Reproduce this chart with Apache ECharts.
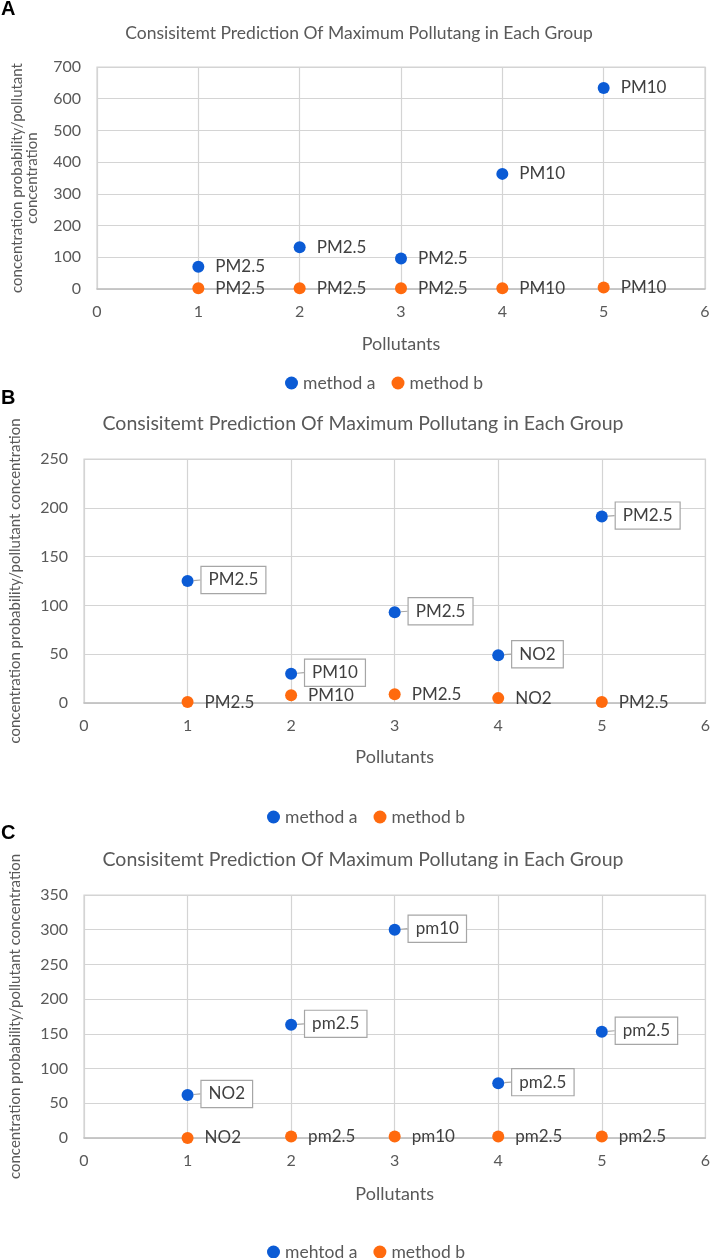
<!DOCTYPE html>
<html>
<head>
<meta charset="utf-8">
<script src="https://cdn.jsdelivr.net/npm/echarts@6/dist/echarts.min.js"></script>
<style>
  html, body { margin: 0; padding: 0; background: #fff; }
  #chart { width: 713px; height: 1258px; }
</style>
</head>
<body>
<div id="chart"></div>
<script>
var xs = [1, 2, 3, 4, 5];

// panel A
var a_methodA = [70, 132, 96, 363, 634];
var a_methodB = [2, 2, 2, 2, 5];
var a_labelsA = ['PM2.5', 'PM2.5', 'PM2.5', 'PM10', 'PM10'];
var a_labelsB = ['PM2.5', 'PM2.5', 'PM2.5', 'PM10', 'PM10'];

// panel B
var b_methodA = [125, 30, 93, 49, 191];
var b_methodB = [1, 8, 9, 5, 1];
var b_labelsA = ['PM2.5', 'PM10', 'PM2.5', 'NO2', 'PM2.5'];
var b_labelsB = ['PM2.5', 'PM10', 'PM2.5', 'NO2', 'PM2.5'];

// panel C
var c_methodA = [62, 163, 300, 79, 153];
var c_methodB = [0, 2, 2, 2, 2];
var c_labelsA = ['NO2', 'pm2.5', 'pm10', 'pm2.5', 'pm2.5'];
var c_labelsB = ['NO2', 'pm2.5', 'pm10', 'pm2.5', 'pm2.5'];

var titleText = 'Consisitemt Prediction Of Maximum Pollutang in Each Group';
var blue = '#0b5bd5';
var orange = '#ff6a0e';
var font = 'Lato, "Open Sans", sans-serif';

function pts(vals, labels) {
    return xs.map(function (x, i) { return [x, vals[i], labels[i]]; });
}

function xAxisFor(idx, gap) {
    return {
        gridIndex: idx, type: 'value', min: 0, max: 6, interval: 1,
        name: 'Pollutants', nameLocation: 'middle', nameGap: gap,
        nameTextStyle: { fontSize: 18, color: '#595959', fontFamily: font },
        axisLine: { show: true, onZero: false, lineStyle: { color: '#bfbfbf', width: 1.5 } },
        axisTick: { show: false },
        axisLabel: { fontSize: 16, color: '#595959', fontFamily: font, margin: 15 },
        splitLine: { show: true, lineStyle: { color: '#d4d4d4', width: 1.2 } }
    };
}

function yAxisFor(idx, max, step, name, gap) {
    return {
        gridIndex: idx, type: 'value', min: 0, max: max, interval: step,
        name: name, nameLocation: 'middle', nameGap: gap,
        nameTextStyle: { fontSize: 15, color: '#595959', fontFamily: font, lineHeight: 15 },
        axisLine: { show: false },
        axisTick: { show: false },
        axisLabel: { fontSize: 16, color: '#595959', fontFamily: font, margin: 16 },
        splitLine: { show: true, lineStyle: { color: '#d4d4d4', width: 1.2 } }
    };
}

var plainLabel = {
    show: true, position: 'right', distance: 11,
    formatter: function (p) { return p.data[2]; },
    fontSize: 17, color: '#404040', fontFamily: font
};

var boxLabel = {
    show: true, position: 'right', distance: 4,
    formatter: function (p) { return p.data[2]; },
    fontSize: 17, color: '#404040', fontFamily: font,
    backgroundColor: '#fff', borderColor: '#a6a6a6', borderWidth: 1.2,
    padding: [5, 7, 4, 7]
};

function sc(name, idx, data, color, label, callout) {
    var s = {
        name: name, type: 'scatter', xAxisIndex: idx, yAxisIndex: idx,
        symbolSize: 12, data: data,
        itemStyle: { color: color, opacity: 1 },
        label: label
    };
    if (callout) {
        s.labelLine = { show: true, lineStyle: { color: '#a6a6a6', width: 1.2 } };
        s.labelLayout = { dx: 4, dy: -1 };
    }
    return s;
}

var option = {
    backgroundColor: '#fff',
    animation: false,
    title: [
        { text: titleText, left: 354, top: 19, textAlign: 'center',
          textStyle: { fontSize: 17.5, fontWeight: 'normal', color: '#595959', fontFamily: font } },
        { text: titleText, left: 358, top: 409, textAlign: 'center',
          textStyle: { fontSize: 19.5, fontWeight: 'normal', color: '#595959', fontFamily: font } },
        { text: titleText, left: 358, top: 845, textAlign: 'center',
          textStyle: { fontSize: 19.5, fontWeight: 'normal', color: '#595959', fontFamily: font } }
    ],
    graphic: [
        { type: 'text', left: 1, top: -1, style: { text: 'A', font: 'bold 20px "Liberation Sans", Arial', fill: '#000' } },
        { type: 'text', left: 1, top: 388, style: { text: 'B', font: 'bold 20px "Liberation Sans", Arial', fill: '#000' } },
        { type: 'text', left: 1, top: 823, style: { text: 'C', font: 'bold 20px "Liberation Sans", Arial', fill: '#000' } }
    ],
    legend: [
        { data: ['method a', 'method b'], left: 280, top: 369, itemWidth: 13, itemHeight: 13, itemGap: 16,
          icon: 'circle', textStyle: { fontSize: 17.5, color: '#595959', fontFamily: font } },
        { data: ['method a', 'method b'], left: 262, top: 803, itemWidth: 13, itemHeight: 13, itemGap: 16,
          icon: 'circle', textStyle: { fontSize: 17.5, color: '#595959', fontFamily: font } },
        { data: ['mehtod a', 'method b'], left: 262, top: 1238, itemWidth: 13, itemHeight: 13, itemGap: 16,
          icon: 'circle', textStyle: { fontSize: 17.5, color: '#595959', fontFamily: font } }
    ],
    grid: [
        { left: 97, top: 67, width: 608, height: 222, show: true, borderColor: '#d4d4d4', borderWidth: 1.2 },
        { left: 78, top: 459, width: 631, height: 244, show: true, borderColor: '#d4d4d4', borderWidth: 1.2 },
        { left: 78, top: 895, width: 631, height: 243, show: true, borderColor: '#d4d4d4', borderWidth: 1.2 }
    ],
    xAxis: [xAxisFor(0, 46), xAxisFor(1, 45), xAxisFor(2, 47)],
    yAxis: [
        yAxisFor(0, 700, 100, 'concentration probability/pollutant\nconcentration', 57),
        yAxisFor(1, 250, 50, 'concentration probability/pollutant concentration', 61),
        yAxisFor(2, 350, 50, 'concentration probability/pollutant concentration', 61)
    ],
    series: [
        sc('method a', 0, pts(a_methodA, a_labelsA), blue, plainLabel),
        sc('method b', 0, pts(a_methodB, a_labelsB), orange, plainLabel),
        sc('method a', 1, pts(b_methodA, b_labelsA), blue, boxLabel, true),
        sc('method b', 1, pts(b_methodB, b_labelsB), orange, plainLabel),
        sc('mehtod a', 2, pts(c_methodA, c_labelsA), blue, boxLabel, true),
        sc('method b', 2, pts(c_methodB, c_labelsB), orange, plainLabel)
    ]
};

var chart = echarts.init(document.getElementById('chart'));
chart.setOption(option);
</script>
</body>
</html>
